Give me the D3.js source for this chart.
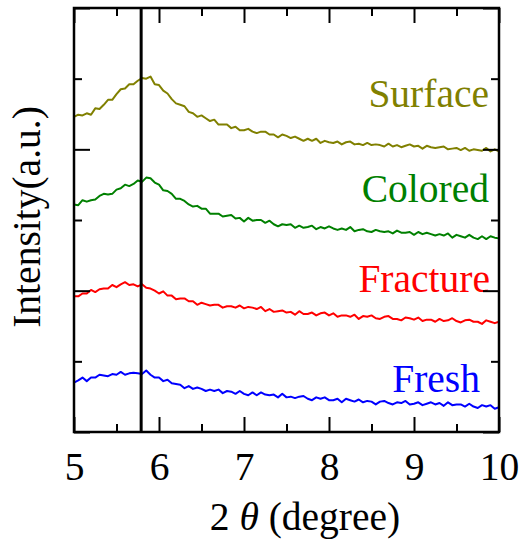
<!DOCTYPE html>
<html>
<head>
<meta charset="utf-8">
<script src="https://cdn.jsdelivr.net/npm/d3@7"></script>
<style>
  body { margin: 0; background: #fff; }
</style>
</head>
<body>
<div class="chart"></div>
<script>
var margin = { top: 8, right: 23, bottom: 111, left: 74 }

var width = 522 - margin.left - margin.right;
var height = 543 - margin.top - margin.bottom;

var serif = "'Liberation Serif'";

// 2 theta from 5 to 10 degrees, step 0.05
var twoTheta = d3.range(101).map(i => 5 + i * 0.05);

var surface = [446,449,448,451,449,458,457,463,470,470,478,485,486,492,492,497,501,500,503,492,
	491,483,479,471,465,463,461,453,451,446,448,444,440,442,435,435,435,430,432,427,
	427,429,425,423,425,425,421,421,417,421,419,416,418,415,412,415,412,415,409,412,
	410,409,411,407,410,411,407,408,406,409,406,407,406,404,408,404,406,403,405,407,
	404,405,401,405,403,402,403,404,400,401,402,399,402,398,400,399,398,402,397,400,397];

var colored = [322,321,328,326,328,329,334,337,336,337,343,345,350,348,351,356,354,360,359,353,
	350,342,341,337,330,330,327,322,319,320,316,316,309,309,309,305,306,307,302,303,
	298,303,299,300,300,296,299,294,291,294,293,294,289,292,289,290,292,287,290,288,
	291,288,286,288,286,290,284,286,287,284,283,286,284,283,284,281,285,282,282,283,
	279,283,280,282,280,278,280,278,281,275,279,277,275,279,275,273,277,273,277,275,274];

var fracture = [192,192,196,196,201,198,202,203,203,208,205,209,212,208,209,206,209,204,203,200,
	196,199,193,193,188,189,189,185,185,180,183,181,179,180,180,176,178,178,176,179,
	175,177,176,174,177,171,174,170,171,172,169,170,166,171,167,167,169,165,168,169,
	165,168,163,165,165,163,166,160,164,163,165,161,160,163,164,160,160,158,162,161,
	159,162,157,159,159,156,160,157,158,161,157,155,158,159,156,156,153,158,156,154,156];

var fresh = [70,73,77,72,77,77,81,80,79,82,81,85,81,83,84,83,82,87,81,77,
	77,72,74,69,68,67,62,65,61,63,61,58,60,58,60,55,58,57,54,58,
	54,52,56,52,56,53,52,53,49,54,49,50,48,50,51,47,45,49,47,49,
	45,45,47,42,47,45,43,46,42,44,43,39,43,44,41,39,42,41,44,39,
	40,42,38,40,42,39,41,37,42,38,39,39,36,40,36,34,38,36,38,33,35];

var seriesNames = ['Surface', 'Colored', 'Fracture', 'Fresh'];
var seriesValues = [surface, colored, fracture, fresh];
var seriesColors = ['#808000', '#008000', '#ff0000', '#0000ff'];

var xMajor = [5, 6, 7, 8, 9, 10];
var xMinor = [5.5, 6.5, 7.5, 8.5, 9.5];
var yMajor = [0, 200, 400, 600];
var yMinor = [100, 300, 500];
var markerAngle = 5.79;

var svg = d3.select('.chart')
	.append('svg')
		.attr('width', width + margin.left + margin.right)
		.attr('height', height + margin.top + margin.bottom)
	.append('g')
		.attr('transform', `translate(${margin.left}, ${margin.top})`);

var xScale = d3.scaleLinear()
	.domain([5, 10])
	.range([0, width]);

var yScale = d3.scaleLinear()
	.domain([0, 600])
	.range([height, 0]);

var line = d3.line()
	.x((d, i) => xScale(twoTheta[i]))
	.y(d => yScale(d));

seriesValues.forEach(function(vals, k) {
	svg.append('path')
		.datum(vals)
		.attr('fill', 'none')
		.attr('stroke', seriesColors[k])
		.attr('stroke-width', 2)
		.attr('stroke-linejoin', 'round')
		.attr('d', line);
});

// series labels
var labelPos = [
	{ x: 489, y: 107 },
	{ x: 489, y: 202 },
	{ x: 490, y: 292 },
	{ x: 480, y: 392 }
];
seriesNames.forEach(function(name, k) {
	svg.append('text')
		.attr('x', labelPos[k].x - margin.left)
		.attr('y', labelPos[k].y - margin.top)
		.attr('text-anchor', 'end')
		.attr('fill', seriesColors[k])
		.style('font-family', serif)
		.style('font-size', '39.5px')
		.text(name);
});

// vertical marker
svg.append('line')
	.attr('x1', xScale(markerAngle))
	.attr('x2', xScale(markerAngle))
	.attr('y1', 0)
	.attr('y2', height)
	.attr('stroke', '#000')
	.attr('stroke-width', 3);

// axes, ticks inward on all sides
function tidy(g) {
	g.select('.domain').remove();
	g.selectAll('line').attr('stroke', '#000').attr('stroke-width', 2);
}

svg.append('g')
	.attr('transform', `translate(0, ${height})`)
	.call(d3.axisBottom(xScale).tickValues(xMajor).tickSize(-15).tickPadding(20).tickFormat(d3.format('d')))
	.call(tidy)
	.selectAll('text')
		.style('font-size', '39.5px')
		.style('font-family', serif)
		.attr('fill', '#000');

svg.append('g')
	.attr('transform', `translate(0, ${height})`)
	.call(d3.axisBottom(xScale).tickValues(xMinor).tickSize(-8).tickFormat(''))
	.call(tidy);

svg.append('g')
	.call(d3.axisTop(xScale).tickValues(xMajor).tickSize(-15).tickFormat(''))
	.call(tidy);

svg.append('g')
	.call(d3.axisTop(xScale).tickValues(xMinor).tickSize(-8).tickFormat(''))
	.call(tidy);

svg.append('g')
	.call(d3.axisLeft(yScale).tickValues(yMajor).tickSize(-16).tickFormat(''))
	.call(tidy);

svg.append('g')
	.call(d3.axisLeft(yScale).tickValues(yMinor).tickSize(-8).tickFormat(''))
	.call(tidy);

svg.append('g')
	.attr('transform', `translate(${width}, 0)`)
	.call(d3.axisRight(yScale).tickValues(yMajor).tickSize(-16).tickFormat(''))
	.call(tidy);

svg.append('g')
	.attr('transform', `translate(${width}, 0)`)
	.call(d3.axisRight(yScale).tickValues(yMinor).tickSize(-8).tickFormat(''))
	.call(tidy);

// frame
svg.append('rect')
	.attr('width', width)
	.attr('height', height)
	.attr('fill', 'none')
	.attr('stroke', '#000')
	.attr('stroke-width', 2.5);

// axis titles
var xTitle = svg.append('text')
	.attr('x', 305 - margin.left)
	.attr('y', 530 - margin.top)
	.attr('text-anchor', 'middle')
	.style('font-family', serif)
	.style('font-size', '39.5px');
xTitle.append('tspan').text('2 ');
xTitle.append('tspan').style('font-style', 'italic').text('θ');
xTitle.append('tspan').text(' (degree)');

svg.append('text')
	.attr('transform', `translate(${40 - margin.left}, ${217 - margin.top}) rotate(-90)`)
	.attr('text-anchor', 'middle')
	.style('font-family', serif)
	.style('font-size', '39.5px')
	.text('Intensity(a.u.)');
</script>
</body>
</html>
